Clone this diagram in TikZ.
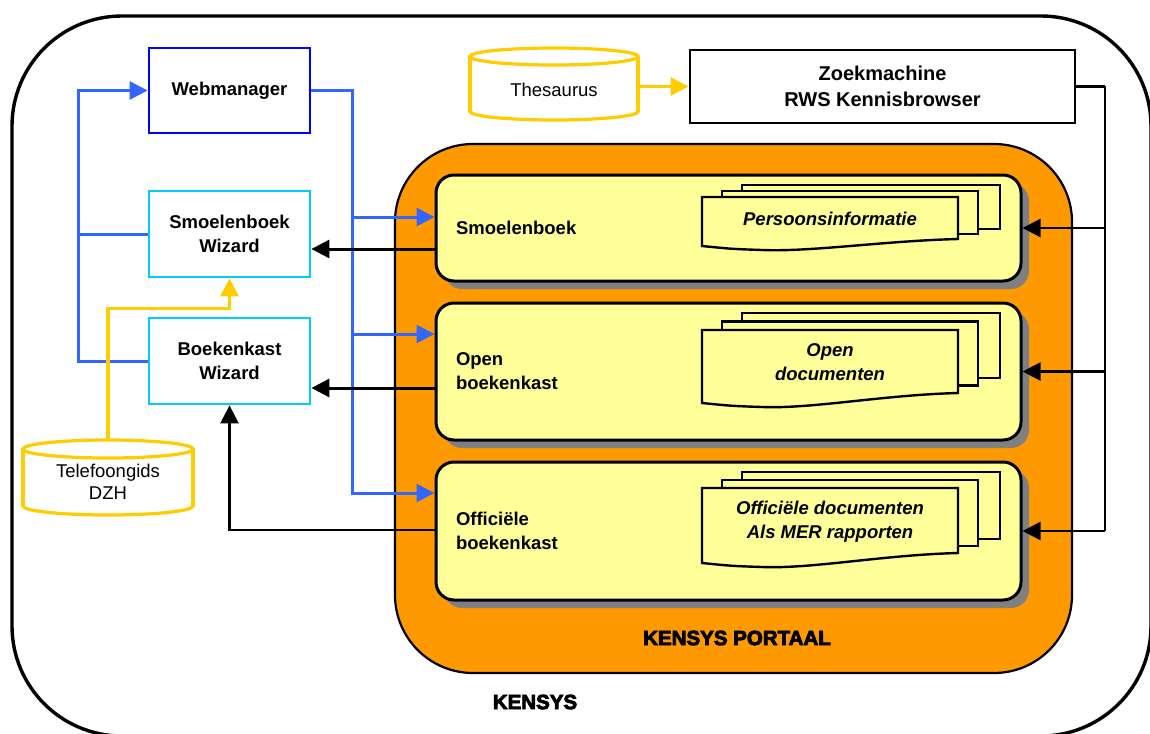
\documentclass[tikz,border=0pt]{standalone}
\usepackage{fontspec}
\setmainfont{Liberation Sans}
\newfontfamily\heavyfont{Liberation Sans}[UprightFeatures={FakeBold=4}, BoldFeatures={FakeBold=4}]
\usetikzlibrary{arrows.meta,calc,shadows}
\definecolor{webblue}{HTML}{0000FF}
\definecolor{linkblue}{HTML}{3366FF}
\definecolor{wizcyan}{HTML}{00CCFF}
\definecolor{gold}{HTML}{FFCC00}
\definecolor{portalorange}{HTML}{FF9900}
\definecolor{paleyellow}{HTML}{FFFF99}
\definecolor{shadowgray}{HTML}{808080}
% cylinder: cx, ytop, ybot, rx, ry
\newcommand\mycyl[5]{%
  \fill[white] ({#1-#4},{#2+#5}) rectangle ({#1+#4},{#3-#5});
  \fill[white] (#1,{#3-#5}) ellipse [x radius=#4pt, y radius=#5pt];
  \begin{scope}
    \clip ({#1-#4-5},{#3-#5}) rectangle ({#1+#4+5},{#3+5});
    \draw[cylline] (#1,{#3-#5}) ellipse [x radius=#4pt, y radius=#5pt];
  \end{scope}
  \draw[cylline] ({#1-#4},{#2+#5}) -- ({#1-#4},{#3-#5}) ({#1+#4},{#2+#5}) -- ({#1+#4},{#3-#5});
  \filldraw[cylline, fill=white] (#1,{#2+#5}) ellipse [x radius=#4pt, y radius=#5pt];
}
% document stack: x, ytop, hleft, hright, dy, name, text
\newcommand\docstack[7]{%
  \filldraw[docline] ({#1+40},{#2-2*#5}) rectangle ({#1+298},{#2-2*#5+#4+2});
  \filldraw[docline] ({#1+20},{#2-#5}) rectangle ({#1+276},{#2-#5+#4+1});
  \filldraw[docline] (#1,#2) -- ({#1+256},#2) -- ({#1+256},{#2+#4})
     .. controls ({#1+180},{#2+#4+2}) and ({#1+110},{#2+#3+6}) .. ({#1+60},{#2+#3+4})
     .. controls ({#1+30},{#2+#3+3}) .. (#1,{#2+#3}) -- cycle;
  \node[doctext] (#6) at ({#1+128},{#2+#4/2+1}) {#7};
}
\begin{document}
\begin{tikzpicture}[x=1pt, y=-1pt, line join=miter,
  font=\fontsize{18.5}{24}\selectfont\bfseries,
  wbox/.style={rectangle, fill=white, line width=2.8pt, minimum width=161pt,
    minimum height=85pt, align=center, inner sep=0pt},
  ybox/.style={rectangle, rounded corners=18pt, fill=paleyellow, draw=black,
    line width=3pt, minimum width=585pt, text width=545pt, align=left,
    inner xsep=20pt, inner ysep=0pt,
    drop shadow={shadow xshift=8pt, shadow yshift=-8pt, fill=shadowgray, opacity=1}},
  docline/.style={draw=black, fill=paleyellow, line width=2.4pt},
  doctext/.style={font=\fontsize{18.5}{24}\selectfont\bfseries\itshape, align=center, inner sep=0pt},
  cylline/.style={draw=gold, line width=3.2pt},
  cyltext/.style={font=\fontsize{18.5}{22}\selectfont\mdseries, align=center,
    minimum width=168pt, minimum height=84pt, inner sep=0pt},
  bluel/.style={draw=linkblue, line width=3pt},
  blk/.style={draw=black, line width=3pt},
  blkthin/.style={draw=black, line width=2.5pt},
  goldl/.style={draw=gold, line width=3.2pt},
  arr/.style={-{Triangle[length=18pt,width=18pt]}},
  heavy/.style={font=\fontsize{20.5}{24}\selectfont\heavyfont\bfseries}
]
\useasboundingbox (0,0) rectangle (1150,733);
\clip (0,0) rectangle (1150,733);

% outer KENSYS frame
\node[draw, line width=3.4pt, rounded corners=110pt, minimum width=1139pt,
  minimum height=720pt, inner sep=0pt] (kensys) at (581.5,376) {};

% portal
\node[draw, line width=2.2pt, fill=portalorange, rounded corners=78pt,
  minimum width=677pt, minimum height=529pt, inner sep=0pt] (portal) at (733.5,408.5) {};

% yellow boxes
\node[ybox, minimum height=106pt] (smb) at (728.5,228) {Smoelenboek};
\node[ybox, minimum height=137pt] (opb) at (728.5,371.5) {Open\\boekenkast};
\node[ybox, minimum height=138pt] (ofb) at (728.5,531) {Officiële\\boekenkast};

% document stacks
\docstack{702}{197}{49}{42}{6}{persinfo}{Persoonsinformatie}
\docstack{702}{330}{73}{63}{8.5}{opdoc}{Open\\documenten}
\docstack{702}{488}{75}{65}{8}{ofdoc}{Officiële documenten\\Als MER rapporten}

% left boxes
\node[wbox, draw=webblue] (web) at (229.5,90.5) {Webmanager};
\node[wbox, draw=wizcyan, minimum height=86pt] (sw) at (229.5,234) {Smoelenboek\\Wizard};
\node[wbox, draw=wizcyan, minimum height=86pt] (bw) at (229.5,361) {Boekenkast\\Wizard};

% search engine
\node[rectangle, draw=black, fill=white, line width=2.8pt, minimum width=385pt,
  minimum height=73pt, align=center, inner sep=0pt,
  font=\fontsize{20}{26}\selectfont\bfseries] (zoek) at (882.5,86.5) {Zoekmachine\\RWS Kennisbrowser};

% cylinders
\mycyl{554}{48}{120}{84}{8.5}
\node[cyltext] (thes) at (554,90) {Thesaurus};
\mycyl{108}{440}{515}{85}{9}
\node[cyltext] (tel) at (108,482) {Telefoongids\\DZH};

% coordinates for junctions
\coordinate (wl) at (78,90.5);
\coordinate (wr) at (352,90.5);
\coordinate (zr) at (1105,86.5);
\coordinate (smIn) at ($(smb.west)+(0,-11)$);
\coordinate (opIn) at ($(opb.west)+(0,-37.5)$);
\coordinate (ofIn) at ($(ofb.west)+(0,-38)$);

% blue connectors
\draw[bluel, arr] (bw.west) -| (wl) -- (web.west);
\draw[bluel] (sw.west) -- (sw.west -| wl);
\draw[bluel, arr] (web.east) -- (wr) |- (ofIn);
\draw[bluel, arr] (smIn -| wr) -- (smIn);
\draw[bluel, arr] (opIn -| wr) -- (opIn);

% black connectors to wizards
\draw[blk, arr] ($(smb.west)+(0,21)$) -- ($(sw.east)+(0,15)$);
\draw[blk, arr] ($(opb.west)+(0,16.5)$) -- ($(bw.east)+(0,27)$);
\draw[blkthin, arr] ($(ofb.west)+(0,-1)$) -| (bw.south);

% search engine connectors
\draw[blk] (zoek.east) -- (zr);
\draw[blkthin] (zr) -- (ofb.east -| zr);
\draw[blkthin, arr] (ofb.east -| zr) -- (ofb.east);
\draw[blkthin, arr] (smb.east -| zr) -- (smb.east);
\draw[blkthin, arr] (opb.east -| zr) -- (opb.east);

% gold connectors
\draw[goldl, arr] (zoek.west -| thes.east) -- (zoek.west);
\draw[goldl, arr] (tel.north) |- ($(sw.south)+(0,30)$) -- (sw.south);

% labels
\node[heavy] (lblportal) at (737,638) {KENSYS PORTAAL};
\node[heavy] (lblkensys) at (535,702) {KENSYS};
\end{tikzpicture}
\end{document}
